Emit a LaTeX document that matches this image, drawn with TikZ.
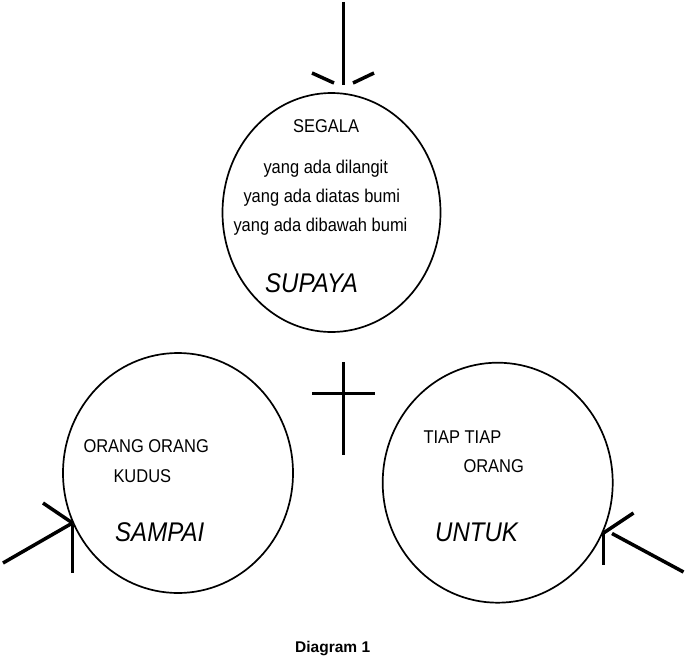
\documentclass[tikz,border=0pt]{standalone}
\usepackage{fontspec}
\setmainfont{Liberation Sans}
\usetikzlibrary{shapes.geometric}
\newcommand{\squeeze}[1]{\scalebox{0.89}[1]{#1}}
\begin{document}
\begin{tikzpicture}[x=1pt,y=-1pt,
  circ/.style={draw, line width=1.7pt, ellipse, inner sep=0pt},
  txt/.style={inner sep=0pt, anchor=base west, font=\fontsize{18.5}{22}\selectfont},
  bigtxt/.style={inner sep=0pt, anchor=base west, font=\fontsize{27}{32}\selectfont\itshape},
  captxt/.style={inner sep=0pt, anchor=base west, font=\fontsize{15.5}{18}\selectfont\bfseries},
  shaft/.style={line width=3pt},
  wing/.style={line width=3.5pt},
  crossline/.style={line width=3pt}]
\useasboundingbox (0,0) rectangle (687,658);
% circles
\node[circ, minimum width=218pt, minimum height=239pt] (top) at (331.5,212.5) {};
\node[circ, minimum width=230pt, minimum height=240pt] (bl) at (178,473) {};
\node[circ, minimum width=230pt, minimum height=240pt] (br) at (497.7,482.7) {};
% top circle texts
\node[txt] (segala) at (293,132.7) {\squeeze{SEGALA}};
\node[txt] (l1) at (263.3,173.3) {\squeeze{yang ada dilangit}};
\node[txt] (l2) at (243.3,202.7) {\squeeze{yang ada diatas bumi}};
\node[txt] (l3) at (233.3,231.7) {\squeeze{yang ada dibawah bumi}};
\node[bigtxt] (supaya) at (265,292.7) {\squeeze{SUPAYA}};
% bottom left texts
\node[txt] (orang2) at (83.3,452.7) {\squeeze{ORANG ORANG}};
\node[txt] (kudus) at (113.3,482.7) {\squeeze{KUDUS}};
\node[bigtxt] (sampai) at (115,541.7) {\squeeze{SAMPAI}};
% bottom right texts
\node[txt] (tiap) at (423.3,443.3) {\squeeze{TIAP TIAP}};
\node[txt] (orang) at (463.3,472.7) {\squeeze{ORANG}};
\node[bigtxt] (untuk) at (435,541.7) {\squeeze{UNTUK}};
% caption
\node[captxt] (cap) at (295,652) {Diagram 1};
% top arrow
\coordinate (ta0) at (343,2);
\coordinate (ta1) at (343,85);
\coordinate (tw1a) at (312,73);
\coordinate (tw1b) at (334,83);
\coordinate (tw2a) at (374,73);
\coordinate (tw2b) at (353,83);
\draw[shaft] (ta0) -- (ta1);
\draw[wing] (tw1a) -- (tw1b);
\draw[wing] (tw2a) -- (tw2b);
% left arrow
\coordinate (la0) at (3,563);
\coordinate (la1) at (72.5,523);
\coordinate (lw1) at (43,503);
\coordinate (lw2a) at (72.5,525);
\coordinate (lw2b) at (72.5,573);
\draw[wing] (la0) -- (la1);
\draw[wing] (lw1) -- (la1);
\draw[shaft] (lw2a) -- (lw2b);
% right arrow
\coordinate (ra0) at (683.5,572);
\coordinate (ra1) at (612,533.5);
\coordinate (rtip) at (603.5,533);
\coordinate (rw1) at (633.5,513);
\coordinate (rw2) at (603.5,565);
\draw[wing] (ra0) -- (ra1);
\draw[wing] (rw1) -- (rtip);
\draw[shaft] (rtip) -- (rw2);
% cross
\coordinate (cv0) at (343.3,362);
\coordinate (cv1) at (343.3,454.5);
\coordinate (ch0) at (312,393.3);
\coordinate (ch1) at (375,393.3);
\draw[crossline] (cv0) -- (cv1);
\draw[crossline] (ch0) -- (ch1);
\end{tikzpicture}
\end{document}
